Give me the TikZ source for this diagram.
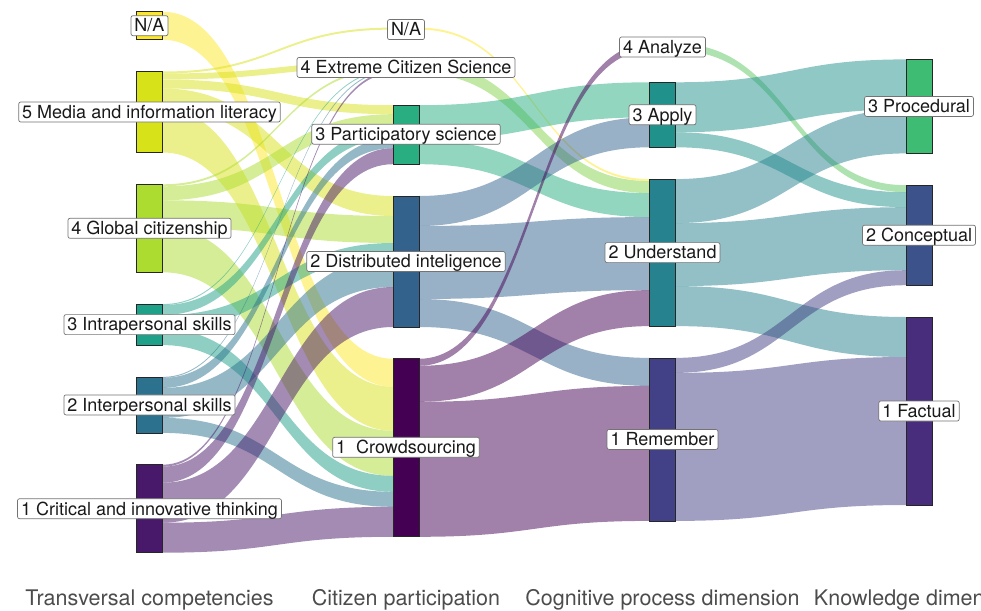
\documentclass[tikz,border=0pt]{standalone}
\usepackage{fontspec}
\setmainfont{TeX Gyre Heros}
\definecolor{cCrowd}{HTML}{440154}
\definecolor{cCrit}{HTML}{48186A}
\definecolor{cFact}{HTML}{472D7B}
\definecolor{cRem}{HTML}{424086}
\definecolor{cConc}{HTML}{3B528B}
\definecolor{cDist}{HTML}{33638D}
\definecolor{cInter}{HTML}{2C728E}
\definecolor{cUnd}{HTML}{26828E}
\definecolor{cApply}{HTML}{21918C}
\definecolor{cIntra}{HTML}{1FA088}
\definecolor{cPart}{HTML}{28AE80}
\definecolor{cProc}{HTML}{3FBC73}
\definecolor{cAna}{HTML}{5DC863}
\definecolor{cExt}{HTML}{84D44B}
\definecolor{cGlob}{HTML}{ADDC30}
\definecolor{cMedia}{HTML}{D8E219}
\definecolor{cNA}{HTML}{FDE725}
% flows between axis 1 and 2
\newcommand\flowA[5]{\fill[#5,fill opacity=.5] (162.5,#1) .. controls (277.75,#1) and (277.75,#3) .. (393,#3) -- (393,#4) .. controls (277.75,#4) and (277.75,#2) .. (162.5,#2) -- cycle;}
% flows between axis 2 and 3
\newcommand\flowB[5]{\fill[#5,fill opacity=.5] (419,#1) .. controls (534.25,#1) and (534.25,#3) .. (649.5,#3) -- (649.5,#4) .. controls (534.25,#4) and (534.25,#2) .. (419,#2) -- cycle;}
% flows between axis 3 and 4
\newcommand\flowC[5]{\fill[#5,fill opacity=.5] (675.5,#1) .. controls (790.75,#1) and (790.75,#3) .. (906,#3) -- (906,#4) .. controls (790.75,#4) and (790.75,#2) .. (675.5,#2) -- cycle;}
\newcommand\stratum[4]{\filldraw[fill=#4,draw=black!85,line width=0.7pt] (#1-13,#2) rectangle (#1+13,#3);}
\tikzset{
  lbl/.style={draw=black!55,fill=white,rounded corners=2pt,line width=0.7pt,
    font=\fontsize{18}{20}\selectfont,inner xsep=3.5pt,inner ysep=1.5pt,
    text height=14.8pt,text depth=2.2pt,text=black!90},
  axtitle/.style={font=\fontsize{21.5}{24}\selectfont,text=black!70,anchor=base,inner sep=0pt}
}
\begin{document}
\begin{tikzpicture}[x=1pt,y=-1pt]
\useasboundingbox (0,0) rectangle (981,610);
% ---- flows axis 1 -> 2
\flowA{11.7}{39.7}{358.8}{386.8}{cNA}
\flowA{71.5}{73.5}{27.6}{29.6}{cMedia}
\flowA{73.5}{79.5}{61.4}{67.4}{cMedia}
\flowA{79.5}{88.5}{105.2}{114.2}{cMedia}
\flowA{88.5}{108.5}{196}{216}{cMedia}
\flowA{108.5}{152.5}{386.8}{430.8}{cMedia}
\flowA{184.3}{186.3}{67.4}{69.4}{cGlob}
\flowA{186.3}{200.3}{114.2}{128.2}{cGlob}
\flowA{200.3}{227.3}{216}{243}{cGlob}
\flowA{227.3}{272.3}{430.8}{475.8}{cGlob}
\flowA{304.1}{305.1}{69.4}{70.4}{cIntra}
\flowA{305.1}{315.1}{128.2}{138.2}{cIntra}
\flowA{315.1}{329.1}{243}{257}{cIntra}
\flowA{329.1}{345.1}{475.8}{491.8}{cIntra}
\flowA{376.9}{377.9}{70.4}{71.4}{cInter}
\flowA{377.9}{387.9}{138.2}{148.2}{cInter}
\flowA{387.9}{417.9}{257}{287}{cInter}
\flowA{417.9}{432.9}{491.8}{506.8}{cInter}
\flowA{464.7}{466.7}{71.4}{73.4}{cCrit}
\flowA{466.7}{482.7}{148.2}{164.2}{cCrit}
\flowA{482.7}{522.7}{287}{327}{cCrit}
\flowA{522.7}{552.7}{506.8}{536.8}{cCrit}
% ---- flows axis 2 -> 3
\flowB{27.6}{29.6}{179.1}{181.1}{cNA}
\flowB{61.4}{73.4}{181.1}{193.1}{cExt}
\flowB{105.2}{140.2}{82.3}{117.3}{cPart}
\flowB{140.2}{164.2}{193.1}{217.1}{cPart}
\flowB{196}{226}{117.3}{147.3}{cDist}
\flowB{226}{299}{217.1}{290.1}{cDist}
\flowB{299}{327}{357.9}{385.9}{cDist}
\flowB{358.8}{365.8}{43.5}{50.5}{cCrowd}
\flowB{365.8}{401.8}{290.1}{326.1}{cCrowd}
\flowB{401.8}{536.8}{385.9}{520.9}{cCrowd}
% ---- flows axis 3 -> 4
\flowC{43.5}{50.5}{185.2}{192.2}{cAna}
\flowC{82.3}{132.3}{59.4}{109.4}{cApply}
\flowC{132.3}{147.3}{192.2}{207.2}{cApply}
\flowC{179.1}{223.1}{109.4}{153.4}{cUnd}
\flowC{223.1}{286.1}{207.2}{270.2}{cUnd}
\flowC{286.1}{326.1}{317}{357}{cUnd}
\flowC{357.9}{372.9}{270.2}{285.2}{cRem}
\flowC{372.9}{520.9}{357}{505}{cRem}
% ---- strata
\stratum{149.5}{11.7}{39.7}{cNA}
\stratum{149.5}{71.5}{152.5}{cMedia}
\stratum{149.5}{184.3}{272.3}{cGlob}
\stratum{149.5}{304.1}{345.1}{cIntra}
\stratum{149.5}{376.9}{432.9}{cInter}
\stratum{149.5}{464.7}{552.7}{cCrit}
\stratum{406}{27.6}{29.6}{cNA}
\stratum{406}{61.4}{73.4}{cExt}
\stratum{406}{105.2}{164.2}{cPart}
\stratum{406}{196}{327}{cDist}
\stratum{406}{358.8}{536.8}{cCrowd}
\stratum{662.5}{43.5}{50.5}{cAna}
\stratum{662.5}{82.3}{147.3}{cApply}
\stratum{662.5}{179.1}{326.1}{cUnd}
\stratum{662.5}{357.9}{520.9}{cRem}
\stratum{919}{59.4}{153.4}{cProc}
\stratum{919}{185.2}{285.2}{cConc}
\stratum{919}{317}{505}{cFact}
% ---- labels
\node[lbl] (la0) at (149.5,25.7) {N/A};
\node[lbl] (la5) at (149.5,112) {5 Media and information literacy};
\node[lbl] (la4) at (149.5,228.3) {4 Global citizenship};
\node[lbl] (la3) at (149.5,324.6) {3 Intrapersonal skills};
\node[lbl] (la2) at (149.5,404.9) {2 Interpersonal skills};
\node[lbl] (la1) at (149.5,508.7) {1 Critical and innovative thinking};
\node[lbl] (lb0) at (406,29.6) {N/A};
\node[lbl] (lb4) at (406,67.4) {4 Extreme Citizen Science};
\node[lbl] (lb3) at (406,134.2) {3 Participatory science};
\node[lbl] (lb2) at (406,261.5) {2 Distributed inteligence};
\node[lbl] (lb1) at (406,447.3) {1\ \ Crowdsourcing};
\node[lbl] (lc4) at (662.5,47) {4 Analyze};
\node[lbl] (lc3) at (662.5,114.8) {3 Apply};
\node[lbl] (lc2) at (662.5,252.6) {2 Understand};
\node[lbl] (lc1) at (662.5,439.4) {1 Remember};
\node[lbl] (ld3) at (919,106.4) {3 Procedural};
\node[lbl] (ld2) at (919,235.2) {2 Conceptual};
\node[lbl] (ld1) at (919,411) {1 Factual};
% ---- axis titles
\node[axtitle] (t1) at (149.5,605) {Transversal competencies};
\node[axtitle] (t2) at (406,605) {Citizen participation};
\node[axtitle] (t3) at (662.5,605) {Cognitive process dimension};
\node[axtitle] (t4) at (919,605) {Knowledge dimension};
\end{tikzpicture}
\end{document}
